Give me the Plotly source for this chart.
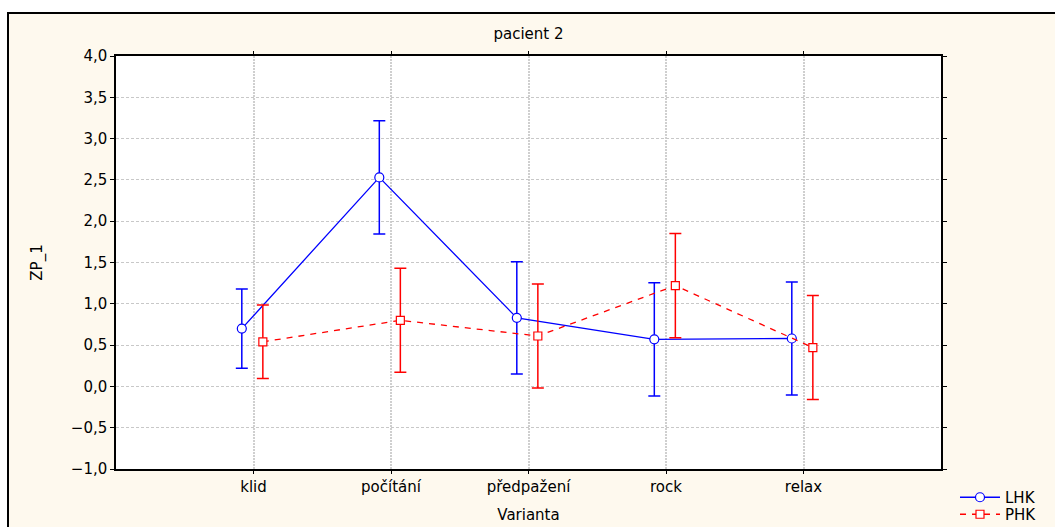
import plotly.graph_objects as go

categories = ["klid", "počítání", "předpažení", "rock", "relax"]
lhk_mean = [0.70, 2.53, 0.83, 0.57, 0.58]
lhk_err = [0.48, 0.685, 0.68, 0.685, 0.685]
phk_mean = [0.54, 0.80, 0.61, 1.22, 0.47]
phk_err = [0.445, 0.63, 0.63, 0.63, 0.63]
y_ticks = [-1.0, -0.5, 0.0, 0.5, 1.0, 1.5, 2.0, 2.5, 3.0, 3.5, 4.0]

idx = list(range(len(categories)))
lhk_x = [i - 0.085 for i in idx]
phk_x = [i + 0.068 for i in idx]

BLUE = "#0000FF"
RED = "#FF0000"
CREAM = "#FEF9EE"
FONT = "DejaVu Sans, Liberation Sans, Arial, sans-serif"
FS = 15

fig = go.Figure()
fig.add_trace(go.Scatter(
    x=lhk_x, y=lhk_mean, name="LHK", mode="lines+markers", legend="legend",
    line=dict(color=BLUE, width=1.3),
    marker=dict(symbol="circle", size=9, color="white", line=dict(color=BLUE, width=1.2)),
    error_y=dict(type="data", array=lhk_err, visible=True, color=BLUE, thickness=1.5, width=6),
))
fig.add_trace(go.Scatter(
    x=phk_x, y=phk_mean, name="PHK", mode="lines+markers", legend="legend2",
    line=dict(color=RED, width=1.3, dash="6px,6px"),
    marker=dict(symbol="square", size=8, color="white", line=dict(color=RED, width=1.2)),
    error_y=dict(type="data", array=phk_err, visible=True, color=RED, thickness=1.5, width=6),
))

L, R, T, B = 116, 941, 56, 469
W, H = 1055, 527
pw, ph = R - L, B - T

def px_x(p):
    return (p - L) / pw

def px_y(p):
    return (B - p) / ph

legend_common = dict(xref="container", yref="container", xanchor="left", yanchor="top",
                     bgcolor="rgba(0,0,0,0)", font=dict(size=FS), itemwidth=40)

fig.update_layout(
    width=W, height=H,
    margin=dict(l=L, r=W - R, t=T, b=H - B, pad=0, autoexpand=False),
    paper_bgcolor="white",
    plot_bgcolor="white",
    separators=", ",
    font=dict(family=FONT, size=FS, color="black"),
    title=dict(text="pacient 2", x=(L + pw / 2) / W, xref="container", y=1 - 34 / H, yref="container",
               xanchor="center", yanchor="middle", font=dict(size=FS)),
    showlegend=True,
    legend=dict(x=955 / W, y=1 - 481 / H, **legend_common),
    legend2=dict(x=955 / W, y=1 - 498 / H, **legend_common),
    shapes=[
        dict(type="rect", xref="paper", yref="paper", layer="below",
             x0=px_x(8), x1=px_x(1075), y0=px_y(545), y1=px_y(13),
             fillcolor=CREAM, line=dict(color="black", width=2)),
        dict(type="rect", xref="paper", yref="paper", layer="below",
             x0=0, x1=1, y0=0, y1=1, fillcolor="white", line=dict(width=0)),
    ],
)

fig.update_xaxes(
    range=[-1, 5], tickmode="array", tickvals=idx, ticktext=categories,
    showgrid=True, gridcolor="#CFCFCF", gridwidth=1.5, griddash="2px,1px",
    showline=True, linecolor="black", linewidth=1.5, mirror="ticks",
    ticks="outside", ticklen=3, tickcolor="black", zeroline=False,
    title=dict(text="Varianta", standoff=15, font=dict(size=FS)),
    tickfont=dict(size=FS), automargin=False,
)
fig.update_yaxes(
    range=[-1, 4], tickmode="array", tickvals=y_ticks, tickformat=".1f",
    showgrid=True, gridcolor="#C8C8C8", gridwidth=1, griddash="3px,2px",
    showline=True, linecolor="black", linewidth=1.5, mirror="ticks",
    ticks="outside", ticklen=4, tickcolor="black", zeroline=False,
    title=dict(text="ZP_1", standoff=25, font=dict(size=FS)),
    tickfont=dict(size=FS), automargin=False,
)

fig.write_html("out.html")
